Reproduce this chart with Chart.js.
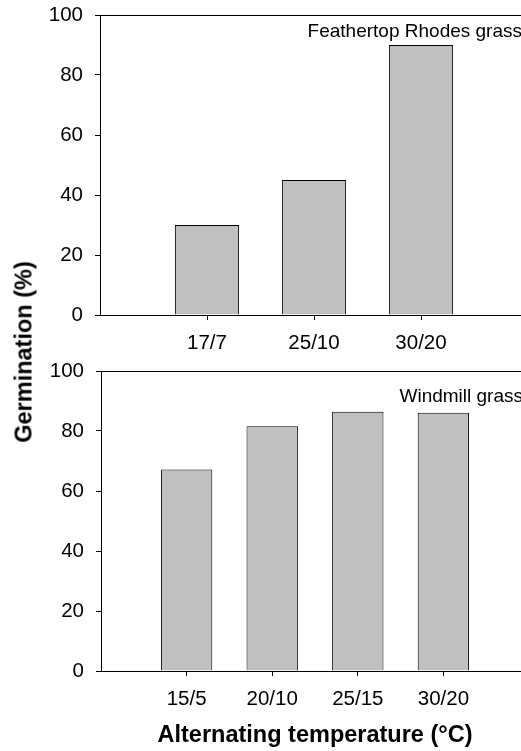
<!DOCTYPE html>
<html lang="en">
<head>
  <meta charset="UTF-8" />
  <title>Germination</title>
  <script src="https://cdn.jsdelivr.net/npm/chart.js"></script>
  <style>
    html, body { margin: 0; padding: 0; background: #fff; overflow: hidden; }
    #wrap { position: relative; width: 521px; height: 751px; overflow: hidden; }
    #topChart { position: absolute; left: 0; top: 0; }
    #bottomChart { position: absolute; left: 0; top: 359px; }
    #yTitle {
      position: absolute; left: 24px; top: 352px;
      transform: translate(-50%, -50%) rotate(-90deg);
      font: bold 23.5px "Liberation Sans", Arial, sans-serif;
      color: #000; white-space: nowrap;
    }
  </style>
</head>
<body>
  <div id="wrap">
    <canvas id="topChart" width="530" height="360"></canvas>
    <canvas id="bottomChart" width="530" height="392"></canvas>
    <div id="yTitle">Germination (%)</div>
  </div>

  <script>
    // data (empty slots are the blank ends of the axis)
    const topCategories = ['', '17/7', '25/10', '30/20', ''];
    const topValues = [null, 30, 45, 90, null];
    const bottomCategories = ['', '15/5', '20/10', '25/15', '30/20', ''];
    const bottomValues = [null, 67.2, 81.6, 86.4, 86.1, null];
    const yTicks = [0, 20, 40, 60, 80, 100];
    const topSpecies = 'Feathertop Rhodes grass';
    const bottomSpecies = 'Windmill grass';
    const xTitle = 'Alternating temperature (°C)';

    Chart.defaults.font.family = '"Liberation Sans", Arial, sans-serif';
    Chart.defaults.color = '#000';

    // top frame line + species name in the corner
    const cornerLabel = {
      id: 'cornerLabel',
      afterDraw(chart, args, opts) {
        const { ctx, chartArea } = chart;
        ctx.save();
        ctx.strokeStyle = '#000';
        ctx.lineWidth = 1;
        const y = Math.round(chartArea.top) + 0.5;
        ctx.beginPath();
        ctx.moveTo(chartArea.left, y);
        ctx.lineTo(chartArea.right, y);
        ctx.stroke();
        ctx.font = '19px "Liberation Sans", Arial, sans-serif';
        ctx.fillStyle = '#000';
        ctx.textAlign = 'right';
        ctx.textBaseline = 'alphabetic';
        ctx.fillText(opts.text, chartArea.right - 6, chartArea.top + opts.offset);
        ctx.restore();
      }
    };

    function makeChart(id, labels, values, opts) {
      const ctx = document.getElementById(id).getContext('2d');
      return new Chart(ctx, {
        type: 'bar',
        data: {
          labels: labels,
          datasets: [{
            data: values,
            backgroundColor: '#c0c0c0',
            borderColor: '#000',
            borderWidth: 1,
            categoryPercentage: 1,
            barPercentage: 0.6
          }]
        },
        options: {
          responsive: false,
          animation: false,
          layout: { padding: opts.padding },
          plugins: {
            legend: { display: false },
            tooltip: { enabled: false },
            cornerLabel: { text: opts.species, offset: opts.labelOffset }
          },
          scales: {
            x: {
              offset: false,
              grid: {
                offset: false,
                drawOnChartArea: false,
                tickLength: 5,
                tickColor: c => (c.index === 0 ? 'rgba(0,0,0,0)' : '#000')
              },
              border: { color: '#000', width: 1 },
              ticks: { font: { size: 20.5 }, padding: 11, autoSkip: false, maxRotation: 0 },
              title: opts.title,
              afterFit: s => {
                s.height = opts.xHeight;
                s.paddingLeft = 0;
                s.paddingRight = 0;
              }
            },
            y: {
              min: 0,
              max: 100,
              afterBuildTicks: s => { s.ticks = yTicks.map(v => ({ value: v })); },
              grid: { drawOnChartArea: false, tickLength: 5, tickColor: '#000' },
              border: { color: '#000', width: 1 },
              ticks: { font: { size: 20.5 }, padding: 12 },
              afterFit: s => {
                s.width = opts.yWidth;
                s.paddingTop = 0;
                s.paddingBottom = 0;
              }
            }
          }
        },
        plugins: [cornerLabel]
      });
    }

    makeChart('topChart', topCategories, topValues, {
      padding: { top: 15, right: 2, bottom: 0, left: 0 },
      species: topSpecies,
      labelOffset: 22,
      xHeight: 45,
      yWidth: 100,
      title: { display: false }
    });

    makeChart('bottomChart', bottomCategories, bottomValues, {
      padding: { top: 12, right: 1, bottom: 0, left: 0 },
      species: bottomSpecies,
      labelOffset: 31,
      xHeight: 80,
      yWidth: 101,
      title: {
        display: true,
        text: xTitle,
        font: { size: 23.5, weight: 'bold' },
        padding: { top: 0, bottom: 1 }
      }
    });
  </script>
</body>
</html>
